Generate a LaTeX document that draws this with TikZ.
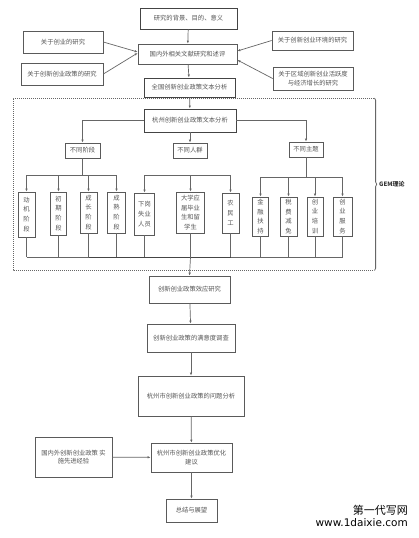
\documentclass[tikz,border=0pt]{standalone}
\usepackage{fontspec}
\setmainfont{DejaVu Sans}
\newfontfamily\cjk{Noto Sans CJK SC}
\newfontfamily\wmfont{DejaVu Sans}
\usetikzlibrary{arrows.meta,decorations.pathreplacing}
\definecolor{bordc}{HTML}{5A5A5A}
\definecolor{boldc}{HTML}{444444}
\definecolor{txtc}{HTML}{555555}
\definecolor{linec}{HTML}{666666}
\tikzset{
  box/.style={draw=bordc, line width=0.7pt, inner sep=0pt, align=center,
    text=txtc, font=\cjk\fontsize{6.3}{8.5}\selectfont, fill=white},
  boldbox/.style={box, draw=boldc, line width=0.95pt},
  vbox/.style={box, font=\cjk\fontsize{6.3}{9.8}\selectfont},
  conn/.style={draw=linec, line width=0.7pt},
  arr/.style={conn, -{Latex[length=3pt,width=2.4pt]}},
}
\begin{document}
\begin{tikzpicture}[x=1pt,y=-1pt]
\useasboundingbox (0,0) rectangle (419,538);
\fill[white] (0,0) rectangle (419,538);
% dashed frame (three sides) and brace as right side
\draw[draw=linec, line width=0.5pt, dash pattern=on 1pt off 1pt] (374,98) -- (13,98) -- (13,270) -- (374,270);
\draw[draw=linec, line width=0.8pt, decorate, decoration={brace, amplitude=2.2pt}]
  (374.5,98) -- coordinate[pos=0.5] (gemtip) (374.5,270.5);
\node[anchor=west, inner sep=0pt, font=\cjk\bfseries\fontsize{6}{7}\selectfont, text=black!80]
  (gem) at (379,184.5) {GEM理论};

% top nodes
\node[boldbox, minimum width=97pt, minimum height=21pt] (bg) at (188.5,18.5) {研究的背景、目的、意义};
\node[box, minimum width=99pt, minimum height=20pt] (gn) at (187.5,54) {国内外相关文献研究和述评};
\node[box, minimum width=80pt, minimum height=22pt] (cy) at (63,42) {关于创业的研究};
\node[box, minimum width=82pt, minimum height=22pt] (cz) at (62,74) {关于创新创业政策的研究};
\node[box, minimum width=81pt, minimum height=19pt] (hj) at (312.5,40.5) {关于创新创业环境的研究};
\node[box, minimum width=80pt, minimum height=23pt] (qy) at (313,78.5) {关于区域创新创业活跃度\\与经济增长的研究};
\node[boldbox, minimum width=91pt, minimum height=19pt] (qg) at (189.5,87.5) {全国创新创业政策文本分析};
\node[boldbox, minimum width=92pt, minimum height=23pt] (hz) at (190,120.5) {杭州创新创业政策文本分析};

\draw[arr] (bg) -- (gn);
\draw[arr] (gn) -- (qg);
\draw[arr] (qg) -- (hz);
\draw[arr] (cy.east) -- ([yshift=2pt]gn.west);
\draw[arr] (cz.east) -- ([yshift=1pt]gn.west);
\draw[arr] (hj.west) -- ([yshift=3pt]gn.east);
\draw[arr] (qy.west) -- ([yshift=-6pt]gn.east);

% categories
\node[box, minimum width=35pt, minimum height=15pt] (jd) at (82.5,150.5) {不同阶段};
\node[box, minimum width=34pt, minimum height=15pt] (rq) at (190,150.5) {不同人群};
\node[box, minimum width=34pt, minimum height=15pt] (zt) at (306,149.5) {不同主题};
\draw[arr] (hz.west) -| (jd.north);
\draw[arr] (hz) -- (rq);
\draw[arr] (hz.east) -| (zt.north);

% vertical boxes
\node[vbox, minimum width=17pt, minimum height=45pt] (v1) at (26.5,214.5) {动\\机\\阶\\段};
\node[vbox, minimum width=16pt, minimum height=43pt] (v2) at (58.5,213.5) {初\\期\\阶\\段};
\node[vbox, minimum width=17pt, minimum height=41pt] (v3) at (88.5,212.5) {成\\长\\阶\\段};
\node[vbox, minimum width=18pt, minimum height=41pt] (v4) at (116.5,212.5) {成\\熟\\阶\\段};
\node[vbox, minimum width=20pt, minimum height=42pt] (v5) at (144.5,214) {下岗\\失业\\人员};
\node[vbox, minimum width=28pt, minimum height=41pt] (v6) at (190.5,212.5) {大学应\\届毕业\\生和留\\学生};
\node[vbox, minimum width=17pt, minimum height=40pt] (v7) at (230.5,213) {农\\民\\工};
\node[vbox, minimum width=16pt, minimum height=39pt] (v8) at (260.5,216.5) {金\\融\\扶\\持};
\node[vbox, minimum width=17pt, minimum height=39pt] (v9) at (288.5,216.5) {税\\费\\减\\免};
\node[vbox, minimum width=16pt, minimum height=39pt] (v10) at (315,216.5) {创\\业\\培\\训};
\node[vbox, minimum width=19pt, minimum height=39pt] (v11) at (342.5,216.5) {创\\业\\服\\务};

\coordinate (b1) at (82.5,175);
\coordinate (b2) at (190,175);
\coordinate (b3) at (306,177);
\draw[conn] (jd) -- (b1);
\draw[conn] (v1.north |- b1) -- (v4.north |- b1);
\foreach \v in {v1,v2,v3,v4} \draw[arr] (\v.north |- b1) -- (\v.north);
\draw[conn] (v5.north |- b2) -- (v7.north |- b2);
\foreach \v in {v5,v6,v7} \draw[arr] (\v.north |- b2) -- (\v.north);
\draw[conn] (zt) -- (b3);
\draw[conn] (v8.north |- b3) -- (v11.north |- b3);
\foreach \v in {v8,v9,v10,v11} \draw[arr] (\v.north |- b3) -- (\v.north);

% bottom collector
\coordinate (bb) at (190.5,257);
\foreach \v in {v1,v2,v3,v4,v5,v6,v7,v8,v9,v10,v11} \draw[conn] (\v.south) -- (\v.south |- bb);
\draw[conn] (v1.south |- bb) -- (v11.south |- bb);
\draw[conn, line width=1pt, draw=boldc] (v3.south |- bb) -- (v7.south |- bb);

% lower chain
\node[box, minimum width=81pt, minimum height=27pt] (xy) at (189.5,289.5) {创新创业政策效应研究};
\node[box, minimum width=88pt, minimum height=28pt] (my) at (191,338) {创新创业政策的满意度调查};
\node[box, minimum width=106pt, minimum height=40pt] (wt) at (191,396) {杭州市创新创业政策的问题分析};
\node[box, minimum width=81pt, minimum height=29pt] (jy) at (191.5,457.5) {杭州市创新创业政策优化\\建议};
\node[box, minimum width=77pt, minimum height=40pt] (jl) at (73.5,457) {国内外创新创业政策 实\\施先进经验};
\node[box, minimum width=51pt, minimum height=23pt] (zj) at (191.5,510.5) {总结与展望};

\draw[arr] (bb) -- (xy.north);
\draw[arr] (xy) -- (my);
\draw[arr] (my) -- (wt);
\draw[arr] (wt) -- (jy);
\draw[arr] (jl) -- (jy);
\draw[arr] (jy) -- (zj);

% watermark
\node[anchor=east, inner sep=0pt, font=\cjk\fontsize{11}{12}\selectfont, text=black] (wm1) at (408,510) {第一代写网};
\node[anchor=east, inner sep=0pt, font=\wmfont\fontsize{10.5}{12}\selectfont, text=black] (wm2) at (408,523) {www.1daixie.com};
\end{tikzpicture}
\end{document}
